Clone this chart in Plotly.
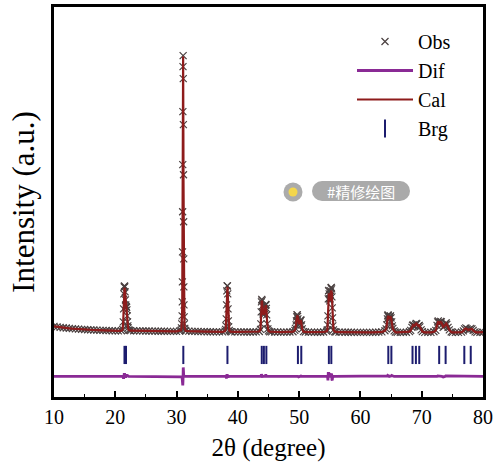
import plotly.graph_objects as go

# ---------------- data (intensity in arbitrary units) ----------------
two_theta = [
    10.0, 10.5, 11.0, 11.5, 12.0, 12.5, 13.0, 13.5, 14.0, 14.5, 15.0, 15.5, 16.0, 16.5, 17.0, 17.5, 18.0, 18.5, 19.0, 19.5, 20.0, 20.5, 21.0,
    21.2, 21.3, 21.35, 21.4, 21.45, 21.5, 21.55, 21.6, 21.65, 21.7, 21.75, 21.8, 21.85, 21.9, 21.95, 22.0, 22.05, 22.1, 22.2, 22.3,
    22.5, 23.0, 23.5, 24.0, 24.5, 25.0, 25.5, 26.0, 26.5, 27.0, 27.5, 28.0, 28.5, 29.0, 29.5, 30.0, 30.5,
    30.7, 30.8, 30.85, 30.9, 30.93, 30.95, 30.97, 30.99, 31.01, 31.03, 31.05, 31.07, 31.09, 31.11, 31.13, 31.15, 31.17, 31.19, 31.21, 31.24, 31.28, 31.34, 31.42,
    31.5, 32.0, 32.5, 33.0, 33.5, 34.0, 34.5, 35.0, 35.5, 36.0, 36.5, 37.0, 37.5,
    37.9, 38.0, 38.05, 38.1, 38.15, 38.2, 38.25, 38.3, 38.35, 38.4, 38.45, 38.5, 38.6, 38.8,
    39.0, 39.5, 40.0, 40.5, 41.0, 41.5, 42.0, 42.5, 43.0, 43.5,
    43.7, 43.75, 43.8, 43.85, 43.9, 43.95, 44.0, 44.05, 44.1, 44.2, 44.3, 44.4, 44.5, 44.55, 44.6, 44.65, 44.7, 44.8, 44.9, 45.0, 45.2,
    45.5, 46.0, 46.5, 47.0, 47.5, 48.0, 48.5, 49.0,
    49.3, 49.4, 49.5, 49.55, 49.6, 49.65, 49.7, 49.75, 49.8, 49.9, 50.0, 50.1, 50.2, 50.25, 50.3, 50.4, 50.5, 50.7,
    51.0, 51.5, 52.0, 52.5, 53.0, 53.5, 54.0, 54.5,
    54.6, 54.65, 54.7, 54.75, 54.8, 54.85, 54.9, 54.95, 55.0, 55.05, 55.1, 55.15, 55.2, 55.25, 55.3, 55.35, 55.4, 55.45, 55.5, 55.6, 55.8,
    56.0, 56.5, 57.0, 57.5, 58.0, 58.5, 59.0, 59.5, 60.0, 60.5, 61.0, 61.5, 62.0, 62.5, 63.0, 63.5, 64.0,
    64.2, 64.3, 64.4, 64.45, 64.5, 64.55, 64.6, 64.7, 64.8, 64.85, 64.9, 65.0, 65.1, 65.2, 65.3, 65.5, 65.7,
    66.0, 66.5, 67.0, 67.5, 68.0,
    68.2, 68.4, 68.5, 68.6, 68.8, 68.9, 69.0, 69.1, 69.2, 69.4, 69.5, 69.6, 69.7, 69.9, 70.1,
    70.5, 71.0, 71.5, 72.0,
    72.3, 72.5, 72.6, 72.7, 72.8, 72.9, 73.0, 73.1, 73.2, 73.3, 73.5, 73.7, 73.8, 73.9, 74.0, 74.1, 74.3, 74.5, 74.8,
    75.0, 75.5, 76.0, 76.5,
    76.8, 77.0, 77.2, 77.4, 77.6, 77.8, 78.0, 78.2, 78.4, 78.7,
    79.0, 79.5, 80.0,
]

obs = [
    70.5, 70.0, 69.6, 69.2, 68.9, 68.6, 68.3, 68.0, 67.8, 67.6, 67.4, 67.2, 67.0, 66.9, 66.8, 66.6, 66.5, 66.4, 66.3, 66.2, 66.1, 66.0, 66.2,
    67.5, 75, 88, 103, 110, 111, 110, 105, 97, 92, 90.5, 90, 89.5, 87, 81, 75, 71, 69, 67, 66.5,
    66.3, 66.2, 66.1, 66.0, 66.0, 65.9, 65.9, 65.8, 65.8, 65.7, 65.7, 65.7, 65.6, 65.6, 65.6, 65.6, 65.8,
    66.5, 69, 73, 81, 95, 115, 145, 185, 232, 285, 330, 341, 318, 272, 222, 175, 138, 110, 92, 80, 73, 68.5, 66.5,
    66.0, 65.8, 65.6, 65.5, 65.4, 65.3, 65.3, 65.2, 65.2, 65.1, 65.1, 65.1, 65.1,
    65.8, 67.5, 71, 78, 92, 106, 111, 111, 103, 88, 76, 70, 66.5, 65.3,
    65.1, 65.0, 65.0, 65.0, 64.9, 64.9, 64.9, 64.9, 65.0, 65.4,
    67.5, 73, 85, 95, 97.5, 96.5, 91, 85, 83, 82, 84, 88, 91.5, 92.5, 92, 88.5, 82, 73, 68, 66, 65.2,
    65.0, 64.9, 64.9, 64.8, 64.8, 64.8, 64.9, 65.2,
    66.5, 68.5, 72, 76, 80, 82, 82, 80.5, 78, 74, 73, 74, 76, 77, 76.5, 72, 68, 65.3,
    64.9, 64.8, 64.8, 64.7, 64.7, 64.7, 64.9, 65.7,
    67, 72, 81, 98, 106, 106.5, 103, 98, 96, 98, 102, 106, 109, 109.5, 108, 100, 89, 79, 71, 67, 65.2,
    64.9, 64.8, 64.8, 64.7, 64.7, 64.7, 64.6, 64.6, 64.6, 64.6, 64.6, 64.6, 64.6, 64.7, 64.8, 65.1, 66.2,
    68, 72, 78, 81, 82, 81.5, 80, 78, 79, 80.5, 81, 79, 75, 71, 68.5, 66, 64.8,
    64.6, 64.6, 64.6, 64.7, 65.3,
    66.5, 69.5, 71.5, 72, 70.5, 71, 72.5, 73.5, 73, 70.5, 71, 71.5, 70, 67, 65.3,
    64.6, 64.5, 64.6, 65.2,
    66.5, 71.5, 75, 76, 74.5, 73.5, 74.5, 75.5, 75, 72, 69.5, 70.5, 72, 73.5, 74, 72.5, 69.5, 67, 65,
    64.6, 64.5, 64.5, 64.8,
    66, 68, 69, 68, 67, 67.5, 68.5, 68, 66.5, 65,
    64.6, 64.6, 64.7,
]

cal = [
    70.5, 70.0, 69.6, 69.2, 68.9, 68.6, 68.3, 68.0, 67.8, 67.6, 67.4, 67.2, 67.0, 66.9, 66.8, 66.6, 66.5, 66.4, 66.3, 66.2, 66.1, 66.0, 66.2,
    67.5, 76, 90, 104, 108, 109, 108, 104, 98, 93, 90.5, 89, 88.5, 86, 80, 74, 70, 68.5, 67, 66.5,
    66.3, 66.2, 66.1, 66.0, 66.0, 65.9, 65.9, 65.8, 65.8, 65.7, 65.7, 65.7, 65.6, 65.6, 65.6, 65.6, 65.8,
    66.5, 69, 73.5, 82, 97, 119, 151, 192, 241, 292, 334, 340, 309, 264, 216, 172, 137, 110, 92, 80, 72.5, 68.5, 66.5,
    66.0, 65.8, 65.6, 65.5, 65.4, 65.3, 65.3, 65.2, 65.2, 65.1, 65.1, 65.1, 65.1,
    65.8, 67.5, 71, 79, 93, 105, 110, 110, 103, 89, 76, 70, 66.5, 65.3,
    65.1, 65.0, 65.0, 65.0, 64.9, 64.9, 64.9, 64.9, 65.0, 65.4,
    67.5, 73, 84, 93, 96, 95.5, 91, 86, 83, 82, 84, 88, 90.5, 91.5, 91, 88.5, 82, 73, 68, 66, 65.2,
    65.0, 64.9, 64.9, 64.8, 64.8, 64.8, 64.9, 65.2,
    66.5, 68.5, 72, 76, 79.5, 81.5, 81.5, 80.5, 78, 74.5, 73, 74, 76, 76.5, 76, 72, 68, 65.3,
    64.9, 64.8, 64.8, 64.7, 64.7, 64.7, 64.9, 65.7,
    67, 73, 85, 95, 103, 103.5, 102, 98, 96, 98, 102, 105, 106, 106.5, 105, 103, 93, 80, 71, 67, 65.2,
    64.9, 64.8, 64.8, 64.7, 64.7, 64.7, 64.6, 64.6, 64.6, 64.6, 64.6, 64.6, 64.6, 64.7, 64.8, 65.1, 66.2,
    68, 72, 77.5, 80, 81, 80.5, 79.5, 78, 79, 80, 80.5, 78.5, 74, 70.5, 68, 66, 64.8,
    64.6, 64.6, 64.6, 64.7, 65.3,
    66.5, 69.5, 71.5, 72, 71, 71.5, 73, 73.5, 73, 71, 71.5, 71.5, 70, 67, 65.3,
    64.6, 64.5, 64.6, 65.2,
    66.5, 71.5, 74.5, 75.5, 74.5, 73.5, 74.5, 75, 74.5, 72, 70, 71, 72, 73, 73.5, 72.5, 69.5, 67, 65,
    64.6, 64.5, 64.5, 64.8,
    66, 68, 68.5, 68, 67, 67.5, 68, 68, 66.5, 65,
    64.6, 64.6, 64.7,
]

bragg_two_theta = [21.5, 21.75, 31.1, 38.3, 43.9, 44.25, 44.65, 49.8, 50.35,
                   54.85, 55.25, 64.55, 65.05, 68.5, 69.05, 69.6, 72.85, 73.9, 76.95, 78.0]
bragg_level = 42.0
dif_offset = 20.5

x_ticks = [10, 20, 30, 40, 50, 60, 70, 80]

assert len(two_theta) == len(obs) == len(cal)
dif = [o - c + dif_offset for o, c in zip(obs, cal)]

# ---------------- figure ----------------
SERIF = "Liberation Serif"
fig = go.Figure()

fig.add_trace(go.Scatter(
    x=two_theta, y=obs, name="Obs", mode="markers", legendrank=1,
    marker=dict(symbol="x-thin", size=7, color="#4a4040",
                line=dict(width=1.2, color="#4a4040")),
))
fig.add_trace(go.Scatter(
    x=two_theta, y=cal, name="Cal", mode="lines", legendrank=3,
    line=dict(color="#8e1b1b", width=2.2),
))
fig.add_trace(go.Scatter(
    x=two_theta, y=dif, name="Dif", mode="lines", legendrank=2,
    line=dict(color="#8a2a95", width=2.8),
))
fig.add_trace(go.Scatter(
    x=bragg_two_theta, y=[bragg_level] * len(bragg_two_theta), name="Brg",
    mode="markers", legendrank=4,
    marker=dict(symbol="line-ns", size=13, color="#1c1c6e",
                line=dict(width=2, color="#1c1c6e")),
))

# plot-area geometry in pixels (used for the watermark overlay)
L, R, T, B = 54, 17, 7, 65
W, H = 500, 462
PW, PH = W - L - R, H - T - B

def xp(px):
    return (px - L) / PW

def yp(py):
    return (H - B - py) / PH

shapes = [
    dict(type="circle", xref="paper", yref="paper", layer="above",
         x0=xp(283.5), x1=xp(302.5), y0=yp(201.5), y1=yp(182.5),
         fillcolor="#ababab", line=dict(width=0)),
    dict(type="circle", xref="paper", yref="paper", layer="above",
         x0=xp(288.5), x1=xp(297.5), y0=yp(196.5), y1=yp(187.5),
         fillcolor="#f3d64c", line=dict(width=0)),
    dict(type="circle", xref="paper", yref="paper", layer="above",
         x0=xp(312), x1=xp(332), y0=yp(201), y1=yp(181),
         fillcolor="#aaaaaa", line=dict(width=0)),
    dict(type="circle", xref="paper", yref="paper", layer="above",
         x0=xp(390), x1=xp(410), y0=yp(201), y1=yp(181),
         fillcolor="#aaaaaa", line=dict(width=0)),
    dict(type="rect", xref="paper", yref="paper", layer="above",
         x0=xp(322), x1=xp(400), y0=yp(201), y1=yp(181),
         fillcolor="#aaaaaa", line=dict(width=0)),
]

fig.update_layout(
    width=W, height=H,
    margin=dict(l=L, r=R, t=T, b=B, autoexpand=False),
    paper_bgcolor="white", plot_bgcolor="white",
    font=dict(family=SERIF, color="black"),
    showlegend=True,
    legend=dict(x=xp(352), y=yp(22), xanchor="left", yanchor="top",
                bgcolor="rgba(0,0,0,0)", font=dict(family=SERIF, size=20, color="black"),
                itemwidth=56, tracegroupgap=0),
    xaxis=dict(
        range=[10, 80], tickvals=x_ticks, ticks="inside", ticklen=6, tickwidth=1.5,
        tickcolor="black", automargin=False,
        minor=dict(ticks="inside", ticklen=3, tickwidth=1.2, dtick=5, tick0=15, tickcolor="black"),
        showline=True, linewidth=2.5, linecolor="black", mirror=True,
        showgrid=False, zeroline=False,
        tickfont=dict(family=SERIF, size=20, color="black"),
        title=dict(text="2θ (degree)", font=dict(family=SERIF, size=25, color="black"), standoff=19),
    ),
    yaxis=dict(
        range=[0, 389.5], showticklabels=False, ticks="", automargin=False,
        showline=True, linewidth=2.5, linecolor="black", mirror=True,
        showgrid=False, zeroline=False,
        title=dict(text="Intensity (a.u.)", font=dict(family=SERIF, size=31, color="black"), standoff=8),
    ),
    shapes=shapes,
    annotations=[dict(
        text="#精修绘图", xref="paper", yref="paper", x=xp(361), y=yp(191),
        showarrow=False, xanchor="center", yanchor="middle",
        font=dict(family="Noto Sans CJK SC", size=15, color="white"),
    )],
)

fig.write_html("out.html")
